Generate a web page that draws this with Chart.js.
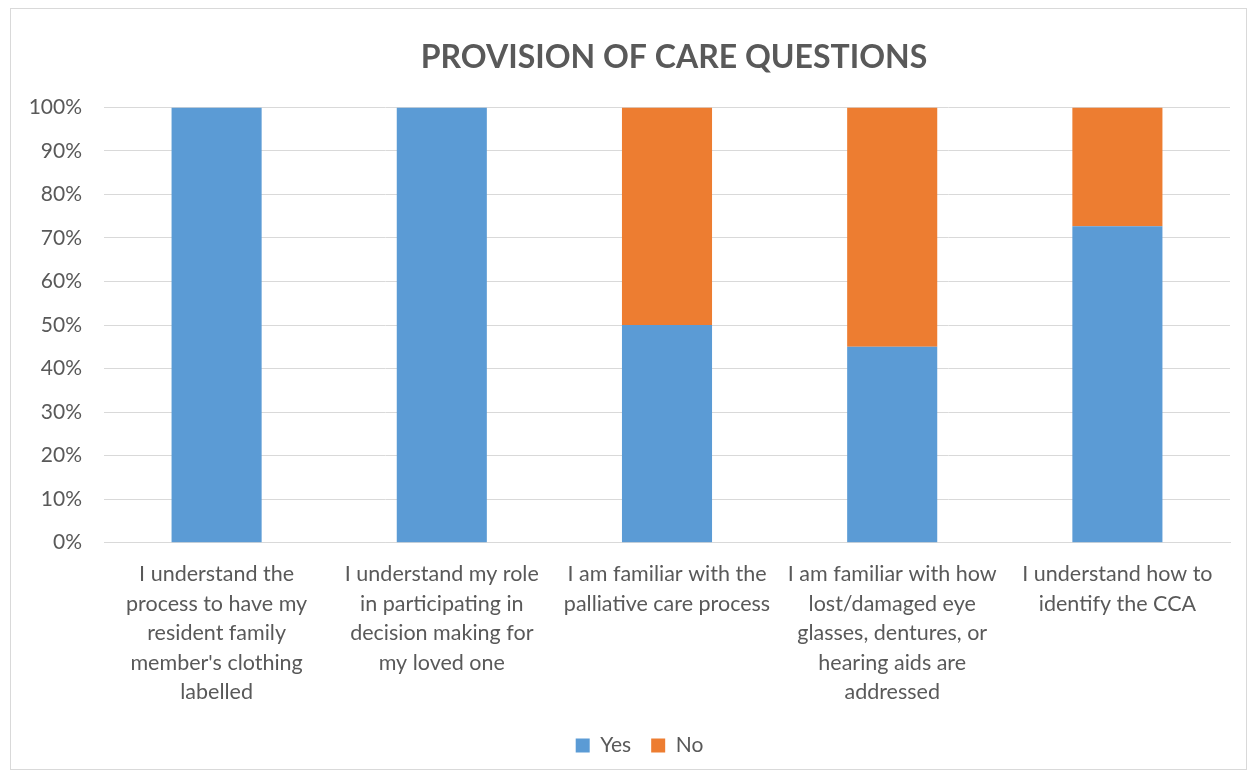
<!DOCTYPE html>
<html>
<head>
<meta charset="utf-8">
<script src="https://cdn.jsdelivr.net/npm/chart.js@4"></script>
<style>
  html, body { margin: 0; padding: 0; background: #fff; }
  #frame {
    position: absolute; left: 10px; top: 8px;
    width: 1237px; height: 762px;
    box-sizing: border-box; border: 1px solid #d9d9d9;
  }
</style>
</head>
<body>
<div id="frame"><canvas id="careChart"></canvas></div>
<script>
const categories = [
    ["I understand the", "process to have my", "resident family", "member's clothing", "labelled"],
    ["I understand my role", "in participating in", "decision making for", "my loved one"],
    ["I am familiar with the", "palliative care process"],
    ["I am familiar with how", "lost/damaged eye", "glasses, dentures, or", "hearing aids are", "addressed"],
    ["I understand how to", "identify the CCA"]
];
const yesValues = [100, 100, 50, 45, 72.7];
const noValues = [0, 0, 50, 55, 27.3];

const textColor = '#595959';
const fontFamily = 'Lato, "Liberation Sans", sans-serif';

const Yes = {
    label: "Yes",
    data: yesValues,
    backgroundColor: '#5B9BD5',
    barPercentage: 1,
    categoryPercentage: 0.4
};

const No = {
    label: "No",
    data: noValues,
    backgroundColor: '#ED7D31',
    barPercentage: 1,
    categoryPercentage: 0.4
};

// title sits over the plot area, legend a bit right of the canvas centre
const nudgeBlocks = {
    id: 'nudgeBlocks',
    afterLayout(chart) {
        const t = chart.titleBlock;
        if (t) {
            const w = t.right - t.left;
            const mid = (chart.chartArea.left + chart.chartArea.right) / 2 + 7;
            t.left = mid - w / 2;
            t.right = mid + w / 2;
        }
        const l = chart.legend;
        if (l) {
            l.left += 19;
            l.right += 19;
        }
    }
};

const config = {
    type: 'bar',
    data: {
        labels: categories,
        datasets: [Yes, No]
    },
    plugins: [nudgeBlocks],
    options: {
        responsive: true,
        maintainAspectRatio: false,
        animation: false,
        layout: {
            padding: { left: 0, right: 16, top: 0, bottom: 3 }
        },
        plugins: {
            title: {
                display: true,
                text: 'PROVISION OF CARE QUESTIONS',
                color: textColor,
                font: { family: fontFamily, size: 32, weight: 'bold' },
                padding: { top: 29, bottom: 31 }
            },
            legend: {
                position: 'bottom',
                labels: {
                    color: textColor,
                    font: { family: fontFamily, size: 21 },
                    boxWidth: 14,
                    boxHeight: 14,
                    padding: 20
                }
            },
            tooltip: { enabled: false }
        },
        scales: {
            x: {
                stacked: true,
                grid: { display: false },
                border: { color: '#d9d9d9' },
                ticks: {
                    color: textColor,
                    font: { family: fontFamily, size: 21.5, lineHeight: 1.37 },
                    maxRotation: 0,
                    autoSkip: false,
                    padding: 9
                },
                afterFit: s => { s.height -= 1; }
            },
            y: {
                stacked: true,
                min: 0,
                max: 100,
                grid: { color: '#d9d9d9', drawTicks: false },
                border: { display: false },
                ticks: {
                    stepSize: 10,
                    color: textColor,
                    font: { family: fontFamily, size: 21 },
                    padding: 22,
                    callback: v => v + '%'
                },
                afterFit: s => { s.width = 93; }
            }
        }
    }
};

const careChart = new Chart(document.getElementById("careChart"), config);
</script>
</body>
</html>
